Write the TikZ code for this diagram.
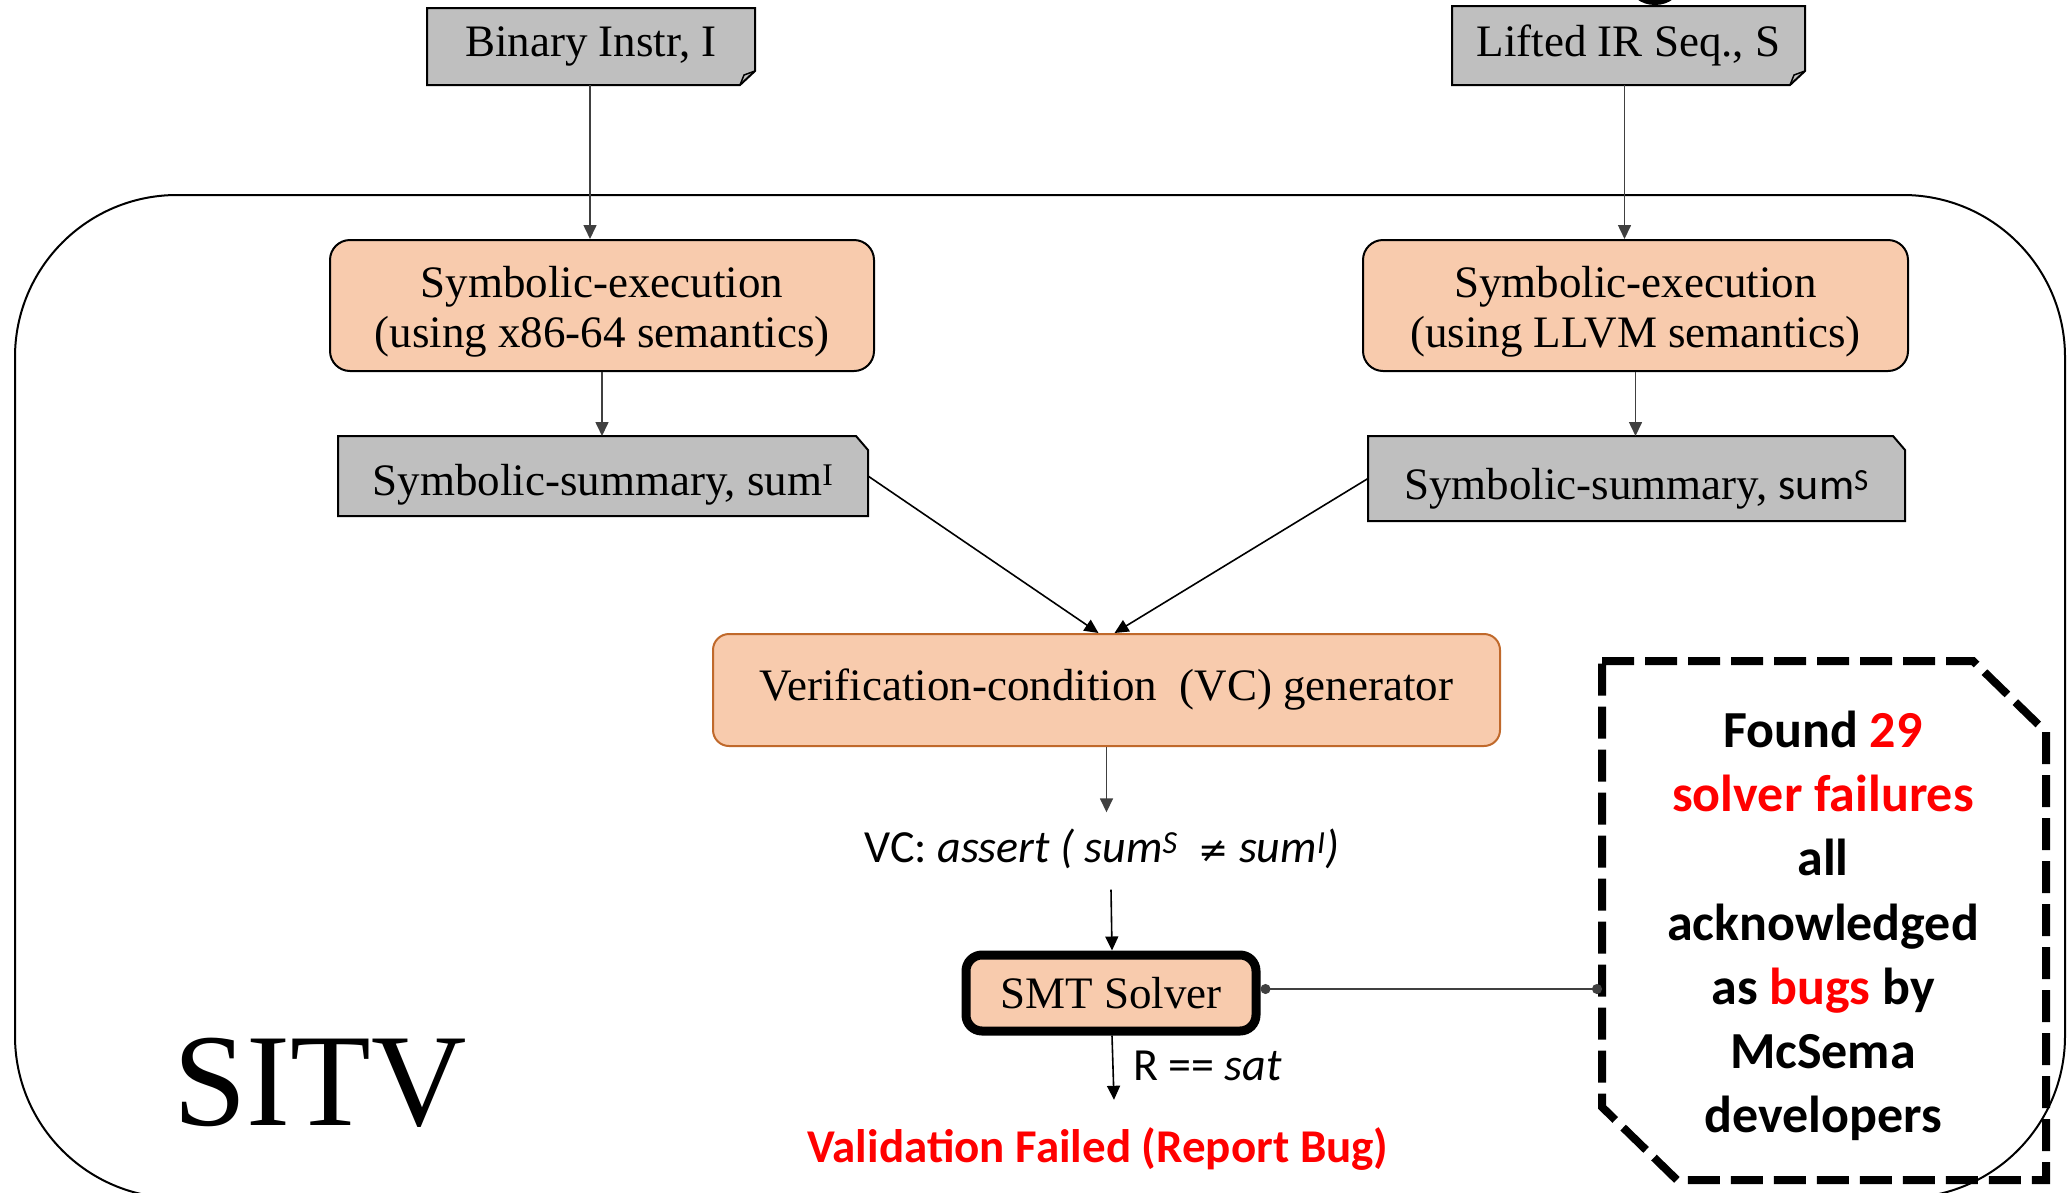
\documentclass[tikz,border=0pt]{standalone}
\usepackage{fontspec}
\setmainfont{Liberation Serif}
\newfontfamily\carlito{Carlito}
\newfontfamily\dejavu{DejaVu Sans}
\usetikzlibrary{arrows.meta,calc,backgrounds}
\definecolor{peach}{HTML}{F8CBAD}
\definecolor{boxgray}{HTML}{BFBFBF}
\definecolor{vcborder}{HTML}{C0692B}
\definecolor{linegray}{HTML}{404040}
\definecolor{bugred}{HTML}{FF0000}
\newcommand{\boxline}[1]{\raisebox{-16.5pt}[0pt][0pt]{#1}}
\begin{document}
\begin{tikzpicture}[x=1pt,y=-1pt,
  serif/.style={font=\fontsize{45}{50}\selectfont},
  plainbox/.style={serif,inner sep=0pt,outer sep=0pt,anchor=center},
  procbox/.style={serif,draw=black,line width=2pt,fill=peach,rounded corners=20pt,
    inner sep=0pt,align=center,anchor=center},
  arr/.style={draw=linegray,line width=1.6pt,-{Triangle[length=14pt,width=13pt]}},
  shapeline/.style={draw=black,line width=2pt,fill=boxgray},
]
\useasboundingbox (0,0) rectangle (2067,1192);
\clip (0,0) rectangle (2067,1192);

% partial black shape at top
\fill[black] (1655,-16) ellipse [x radius=26pt, y radius=21pt];

% outer frame
\draw[line width=2pt,rounded corners=162pt] (15,195) rectangle (2065,1198);

% input boxes
\node[plainbox,minimum width=328pt,minimum height=77pt] (bi) at (591,46.5) {Binary Instr, I};
\node[plainbox,minimum width=353pt,minimum height=79pt] (lir) at (1628.5,45.5) {Lifted IR Seq., S};

% symbolic execution
\node[procbox,minimum width=544pt,minimum height=131pt] (se1) at (602,305.5)
  {\boxline{Symbolic-execution}\\\boxline{(using x86-64 semantics)}};
\node[procbox,minimum width=545pt,minimum height=131pt] (se2) at (1635.5,305.5)
  {\boxline{Symbolic-execution}\\\boxline{(using LLVM semantics)}};

% summaries
\node[plainbox,minimum width=530pt,minimum height=80pt,text height=38pt,text depth=0pt] (ss1) at (603,476)
  {Symbolic-summary, sum\textsuperscript{I}};
\node[plainbox,minimum width=537pt,minimum height=85pt,text height=42pt,text depth=0pt] (ss2) at (1636.5,478.5)
  {Symbolic-summary, {\carlito\fontsize{44}{50}\selectfont sum\textsuperscript{S}}};

% VC generator
\node[procbox,draw=vcborder,rounded corners=16pt,minimum width=787pt,minimum height=112pt] (vc) at (1106.5,690)
  {Verification-condition\ \ (VC) generator};

% VC text
\node[font=\carlito\fontsize{46}{54}\selectfont,inner xsep=2pt,inner ysep=15pt,
  text height=35pt,text depth=12pt] (vct) at (1102,851)
  {VC: \textit{assert ( sum\textsuperscript{S}\ \ {\dejavu\fontsize{36}{40}\selectfont ≠} sum\textsuperscript{I})}};

% SMT solver
\node[procbox,line width=9pt,rounded corners=16pt,minimum width=290pt,minimum height=76pt] (smt) at (1111,993)
  {SMT Solver};

% result
\node[font=\carlito\bfseries\fontsize{47}{56}\selectfont,text=bugred,inner xsep=2pt,inner ysep=26pt,
  text height=36pt,text depth=12pt] (res) at (1098,1150) {Validation Failed (Report Bug)};
\node[font=\carlito\fontsize{46}{54}\selectfont,anchor=base west,inner sep=0pt] (rl) at (1133,1080)
  {R == \textit{sat}};

% SITV
\node[font=\fontsize{132}{150}\selectfont,anchor=base,inner sep=0pt] (sitv) at (320,1125) {SITV};

% note
\node[inner sep=0pt,outer sep=0pt,minimum width=444pt,minimum height=519pt] (note) at (1824,920.5) {};
\node[font=\carlito\bfseries\fontsize{52}{64.2}\selectfont,align=center,inner sep=0pt] (notetext) at (1823,926)
  {Found \textcolor{bugred}{29}\\\textcolor{bugred}{solver failures}\\all\\acknowledged\\as \textcolor{bugred}{bugs} by\\McSema\\developers};

% background shapes
\begin{scope}[on background layer]
  \path[shapeline] (bi.north west) -- (bi.north east) -- ($(bi.south east)+(0,-14)$)
    -- ($(bi.south east)+(-15,0)$) -- (bi.south west) -- cycle;
  \draw[line width=1.5pt] ($(bi.south east)+(-15,0)$) -- ($(bi.south east)+(-11,-10)$) -- ($(bi.south east)+(0,-14)$);
  \path[shapeline] (lir.north west) -- (lir.north east) -- ($(lir.south east)+(0,-14)$)
    -- ($(lir.south east)+(-15,0)$) -- (lir.south west) -- cycle;
  \draw[line width=1.5pt] ($(lir.south east)+(-15,0)$) -- ($(lir.south east)+(-11,-10)$) -- ($(lir.south east)+(0,-14)$);
  \path[shapeline] (ss1.south west) -- (ss1.north west) -- ($(ss1.north east)+(-12,0)$)
    -- ($(ss1.north east)+(0,14)$) -- (ss1.south east) -- cycle;
  \path[shapeline] (ss2.south west) -- (ss2.north west) -- ($(ss2.north east)+(-12,0)$)
    -- ($(ss2.north east)+(0,14)$) -- (ss2.south east) -- cycle;
\end{scope}

\draw[line width=8pt,dash pattern=on 32pt off 11pt] (note.north west) -- ($(note.north east)+(-73,0)$)
  -- ($(note.north east)+(0,71)$) -- (note.south east) -- ($(note.south west)+(75,0)$)
  -- ($(note.south west)+(0,-73)$) -- cycle;

% connectors
\draw[arr] ([xshift=-1pt]bi.south) -- ([xshift=-1pt]bi.south |- se1.north);
\draw[arr] ([xshift=-4pt]lir.south) -- ([xshift=-4pt]lir.south |- se2.north);
\draw[arr] (se1.south) -- (se1.south |- ss1.north);
\draw[arr] (se2.south) -- (se2.south |- ss2.north);
\draw[arr,draw=black] (ss1.east) -- ([xshift=-8pt]vc.north);
\draw[arr,draw=black] (ss2.west) -- ([xshift=8pt]vc.north);
\draw[arr] (vc.south) -- (vc.south |- vct.north);
\draw[arr,draw=black] ([xshift=9pt]vct.south) -- ([xshift=1pt]smt.north);
\draw[arr,draw=black] ([xshift=1pt]smt.south) -- ([xshift=3pt]smt.south |- res.north);
\draw[draw=linegray,line width=1.6pt,{Circle[length=10pt]}-{Circle[length=10pt]}]
  ([yshift=4pt]smt.east) -- ([yshift=4pt]smt.east -| note.west);
\end{tikzpicture}
\end{document}
